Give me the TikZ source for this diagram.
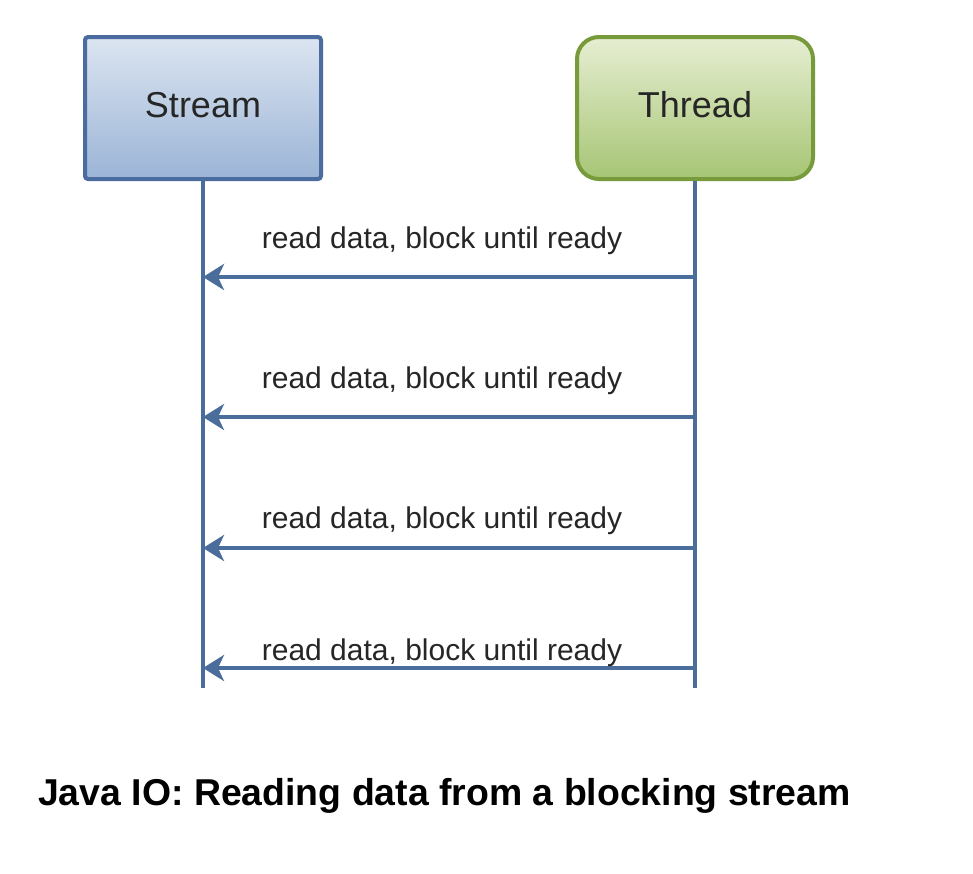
\documentclass[tikz,border=0pt]{standalone}
\usepackage{fontspec}
\setmainfont{Liberation Sans}
\usetikzlibrary{arrows.meta}
\definecolor{lifeblue}{HTML}{4A6D9C}
\definecolor{streamborder}{HTML}{4A6C9E}
\definecolor{streamtop}{HTML}{DCE5F1}
\definecolor{streambot}{HTML}{9BB4D6}
\definecolor{threadborder}{HTML}{779A3A}
\definecolor{threadtop}{HTML}{E6EED2}
\definecolor{threadbot}{HTML}{A6C574}
\definecolor{txt}{HTML}{262626}
\tikzset{
  actorbox/.style={minimum width=236pt, minimum height=142pt, line width=4pt, inner sep=0pt},
  actorlbl/.style={font=\fontsize{36}{40}\selectfont, text=txt},
  lifeline/.style={line width=3.5pt, draw=lifeblue},
  msg/.style={line width=3.5pt, draw=lifeblue, -{Stealth[length=21pt,width=26pt,inset=6pt]}},
  msglabel/.style={font=\fontsize{30}{34}\selectfont, text=txt, anchor=base, inner sep=0pt}
}
\begin{document}
\begin{tikzpicture}[x=1pt,y=-1pt]
\useasboundingbox (0,0) rectangle (973,873);
\fill[white] (0,0) rectangle (973,873);
% actors
\node[actorbox, draw=streamborder, top color=streamtop, bottom color=streambot, rounded corners=3pt] (stream) at (203,108) {};
\node[actorlbl] (streamlbl) at (203,105) {Stream};
\node[actorbox, draw=threadborder, top color=threadtop, bottom color=threadbot, rounded corners=22pt] (thread) at (695,108) {};
\node[actorlbl] (threadlbl) at (695,105) {Thread};
% lifeline ends
\coordinate (send) at (203,688);
\coordinate (tend) at (695,688);
\draw[lifeline] (stream.south) -- (send);
\draw[lifeline] (thread.south) -- (tend);
% message points
\foreach \i/\y in {1/277,2/417,3/548,4/668}{
  \coordinate (s\i) at (203,\y);
  \coordinate (t\i) at (695,\y);
}
\draw[msg] (t1) -- (s1);
\draw[msg] (t2) -- (s2);
\draw[msg] (t3) -- (s3);
\draw[msg] (t4) -- (s4);
\node[msglabel] (l1) at (442,248) {read data, block until ready};
\node[msglabel] (l2) at (442,388) {read data, block until ready};
\node[msglabel] (l3) at (442,528) {read data, block until ready};
\node[msglabel] (l4) at (442,660) {read data, block until ready};
% caption
\node[anchor=base west, inner sep=0pt, font=\fontsize{37.4}{40}\selectfont\bfseries, text=black] (caption) at (38,805) {Java IO: Reading data from a blocking stream};
\end{tikzpicture}
\end{document}
